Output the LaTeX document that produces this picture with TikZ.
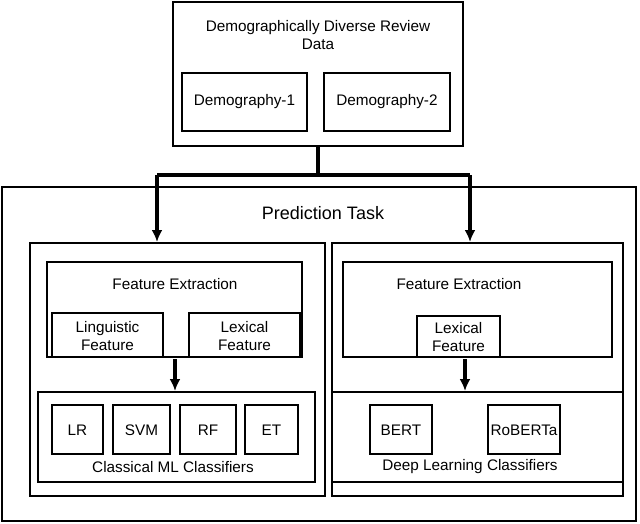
\documentclass[tikz,border=0pt]{standalone}
\usepackage{fontspec}
\setmainfont{Liberation Sans}
\usetikzlibrary{arrows.meta}
\begin{document}
\begin{tikzpicture}[x=1pt,y=-1pt,
 box/.style={draw,line width=1.8pt},
 lbl/.style={font=\fontsize{15.3}{18}\selectfont,align=center},
 arr/.style={line width=3.4pt,-{Latex[length=12pt,width=11pt]}}]
\useasboundingbox (0,0) rectangle (640,523);
\draw[box] (173,2) rectangle (463,146);
\node[lbl] (top) at (318,35) {Demographically Diverse Review\\Data};
\draw[box] (182,73) rectangle (307,131); \node[lbl] (d1) at (244.5,102) {Demography-1};
\draw[box] (324,73) rectangle (450,131); \node[lbl] (d2) at (387,102) {Demography-2};
\draw[box] (2,187) rectangle (636,521);
\node[lbl,font=\fontsize{18}{21}\selectfont] (pt) at (323,213) {Prediction Task};
\coordinate (s) at (318,146); \coordinate (j) at (318,175);
\coordinate (jl) at (157,175); \coordinate (jr) at (470,175);
\coordinate (el) at (157,242); \coordinate (er) at (470,242);
\draw[line width=3.4pt] (s) -- (j);
\draw[line width=3.4pt] (jl) -- (jr);
\draw[arr] (jl) -- (el);
\draw[arr] (jr) -- (er);
\draw[box] (30,243) rectangle (325,496);
\draw[box] (332,243) rectangle (623,496);
\draw[box] (47,262) rectangle (302,357); \node[lbl] (fe1) at (175,284) {Feature Extraction};
\draw[box] (52,313) rectangle (163,357); \node[lbl] (lf1) at (107.5,336) {Linguistic\\Feature};
\draw[box] (189,313) rectangle (300,357); \node[lbl] (xf1) at (244.5,336) {Lexical\\Feature};
\draw[box] (343,262) rectangle (612,357); \node[lbl] (fe2) at (459,284) {Feature Extraction};
\draw[box] (417,316) rectangle (500,357); \node[lbl] (xf2) at (458.5,337) {Lexical\\Feature};
\coordinate (a1) at (175,359); \coordinate (b1) at (175,391);
\coordinate (a2) at (465,359); \coordinate (b2) at (465,391);
\draw[arr] (a1) -- (b1); \draw[arr] (a2) -- (b2);
\draw[box] (38,392) rectangle (315,482);
\draw[box] (52,405) rectangle (103,454); \node[lbl] (lr) at (77.5,430) {LR};
\draw[box] (113,405) rectangle (170,454); \node[lbl] (svm) at (141.5,430) {SVM};
\draw[box] (180,405) rectangle (236,454); \node[lbl] (rf) at (208,430) {RF};
\draw[box] (245,405) rectangle (298,454); \node[lbl] (et) at (271.5,430) {ET};
\node[lbl] (cml) at (173,467) {Classical ML Classifiers};
\draw[box] (332,392) rectangle (623,482);
\draw[box] (370,405) rectangle (432,454); \node[lbl] (bert) at (401,430) {BERT};
\draw[box] (488,405) rectangle (560,454); \node[lbl] (rob) at (524,430) {RoBERTa};
\node[lbl] (dl) at (470,467) {Deep Learning Classifiers};
\end{tikzpicture}
\end{document}
